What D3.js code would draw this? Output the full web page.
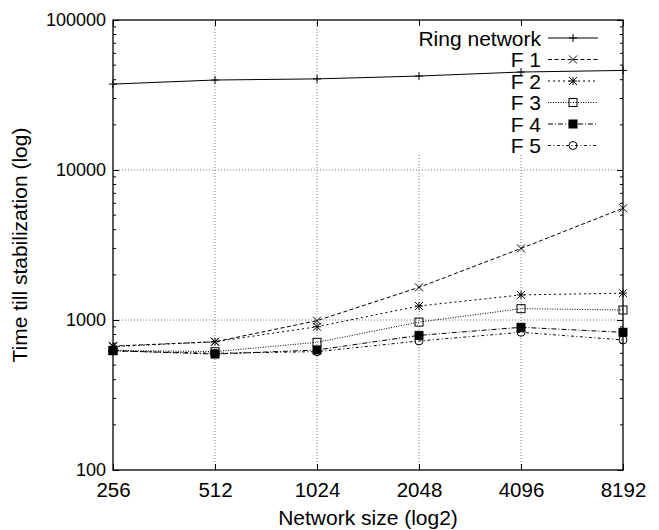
<!DOCTYPE html>
<html>
<head>
<meta charset="utf-8">
<script src="https://cdn.jsdelivr.net/npm/d3@7"></script>
<style>
body { margin: 0; background: #fff; }
svg text { font-family: "Liberation Sans", Arial, sans-serif; fill: #000; }
</style>
</head>
<body>
<svg id="chart" width="659" height="530"></svg>
<script>
// data
var sizes = [256, 512, 1024, 2048, 4096, 8192];
var seriesNames = ["Ring network", "F 1", "F 2", "F 3", "F 4", "F 5"];
var ringTimes = [37400, 39800, 40500, 42300, 45000, 46100];
var f1Times = [670, 716, 990, 1650, 3000, 5560];
var f2Times = [665, 716, 902, 1240, 1470, 1510];
var f3Times = [628, 615, 710, 968, 1190, 1166];
var f4Times = [624, 593, 631, 790, 894, 828];
var f5Times = [622, 600, 615, 725, 828, 736];
var yTickValues = [100, 1000, 10000, 100000];

var allSeries = [ringTimes, f1Times, f2Times, f3Times, f4Times, f5Times];
// gnuplot-ish line types
var dashes = [null, "4,2.5", "2,3", "1,1.5", "5,2,1,2", "3,2.5,1,2.5"];
var symbols = ["plus", "cross", "star", "box", "boxfill", "circle"];

var svg = d3.select("#chart");
var L = 113, R = 623, T = 20, B = 470;

var x = d3.scaleLog().base(2).domain([256, 8192]).range([L, R]);
var y = d3.scaleLog().domain([100, 100000]).range([B, T]);

// grid
var grid = svg.append("g").attr("stroke", "#777").attr("stroke-width", 1)
  .attr("stroke-dasharray", "1,2");
sizes.slice(1, -1).forEach(function(s){
  grid.append("line").attr("x1", x(s)).attr("x2", x(s)).attr("y1", T).attr("y2", B);
});
yTickValues.slice(1, -1).forEach(function(v){
  grid.append("line").attr("x1", L).attr("x2", R).attr("y1", y(v)).attr("y2", y(v));
});

// key area blanks the grid
svg.append("rect").attr("x", 404).attr("y", T + 1).attr("width", R - 405).attr("height", 133)
  .attr("fill", "#fff");

// axes
var xb = svg.append("g").attr("transform", "translate(0," + B + ")")
  .call(d3.axisBottom(x).tickValues(sizes).tickSize(-6).tickPadding(11).tickFormat(d3.format("d")));
var xt = svg.append("g").attr("transform", "translate(0," + T + ")")
  .call(d3.axisTop(x).tickValues(sizes).tickSize(-6).tickFormat(""));
var yl = svg.append("g").attr("transform", "translate(" + L + ",0)")
  .call(d3.axisLeft(y).tickValues(yTickValues).tickSize(-6).tickPadding(7).tickFormat(d3.format("d")));
var yr = svg.append("g").attr("transform", "translate(" + R + ",0)")
  .call(d3.axisRight(y).tickValues(yTickValues).tickSize(-6).tickFormat(""));

[xb, xt, yl, yr].forEach(function(g){
  g.select(".domain").remove();
  g.selectAll(".tick line").attr("stroke", "#000");
  g.selectAll(".tick text").attr("fill", "#000");
});
xb.selectAll(".tick text").style("font-size", "20.5px").attr("dy", "0.8em");
yl.selectAll(".tick text").style("font-size", "18px");

// minor log ticks
var minors = y.ticks().filter(function(v){ return yTickValues.indexOf(v) < 0; });
minors.forEach(function(v){
  svg.append("line").attr("x1", L).attr("x2", L + 3).attr("y1", y(v)).attr("y2", y(v)).attr("stroke", "#000");
  svg.append("line").attr("x1", R).attr("x2", R - 3).attr("y1", y(v)).attr("y2", y(v)).attr("stroke", "#000");
});

svg.append("rect").attr("x", L).attr("y", T).attr("width", R - L).attr("height", B - T)
  .attr("fill", "none").attr("stroke", "#000").attr("stroke-width", 1.3);

// markers
function marker(g, cx, cy, type){
  var s = 4;
  if (type == "plus" || type == "star") {
    g.append("path").attr("d", "M" + (cx - s) + "," + cy + "h" + 2 * s + "M" + cx + "," + (cy - s) + "v" + 2 * s)
      .attr("stroke", "#000").attr("fill", "none");
  }
  if (type == "cross" || type == "star") {
    g.append("path").attr("d", "M" + (cx - s) + "," + (cy - s) + "l" + 2 * s + "," + 2 * s + "M" + (cx - s) + "," + (cy + s) + "l" + 2 * s + "," + (-2 * s))
      .attr("stroke", "#000").attr("fill", "none");
  }
  if (type == "box" || type == "boxfill") {
    g.append("rect").attr("x", cx - s).attr("y", cy - s).attr("width", 2 * s).attr("height", 2 * s)
      .attr("stroke", "#000").attr("fill", type == "boxfill" ? "#000" : "none");
  }
  if (type == "circle") {
    g.append("circle").attr("cx", cx).attr("cy", cy).attr("r", s).attr("stroke", "#000").attr("fill", "none");
  }
}

var line = d3.line().x(function(d, i){ return x(sizes[i]); }).y(function(d){ return y(d); });

allSeries.forEach(function(vals, k){
  var g = svg.append("g");
  g.append("path").datum(vals).attr("d", line)
    .attr("fill", "none").attr("stroke", "#000").attr("stroke-width", 1)
    .attr("stroke-dasharray", dashes[k]);
  vals.forEach(function(v, i){ marker(g, x(sizes[i]), y(v), symbols[k]); });
});

// legend
seriesNames.forEach(function(name, k){
  var ly = 38 + k * 21.5;
  svg.append("text").attr("x", 541).attr("y", ly).attr("dy", "0.36em")
    .attr("text-anchor", "end").style("font-size", "21px").text(name);
  var g = svg.append("g");
  g.append("line").attr("x1", 548).attr("x2", 598).attr("y1", ly).attr("y2", ly)
    .attr("stroke", "#000").attr("stroke-dasharray", dashes[k]);
  marker(g, 573, ly, symbols[k]);
});

// axis titles
svg.append("text").attr("x", (L + R) / 2).attr("y", 518).attr("dy", "0.35em")
  .attr("text-anchor", "middle").style("font-size", "21px").text("Network size (log2)");
svg.append("text").attr("transform", "translate(20," + (T + B) / 2 + ") rotate(-90)")
  .attr("dy", "0.35em").attr("text-anchor", "middle").style("font-size", "21px")
  .text("Time till stabilization (log)");
</script>
</body>
</html>
